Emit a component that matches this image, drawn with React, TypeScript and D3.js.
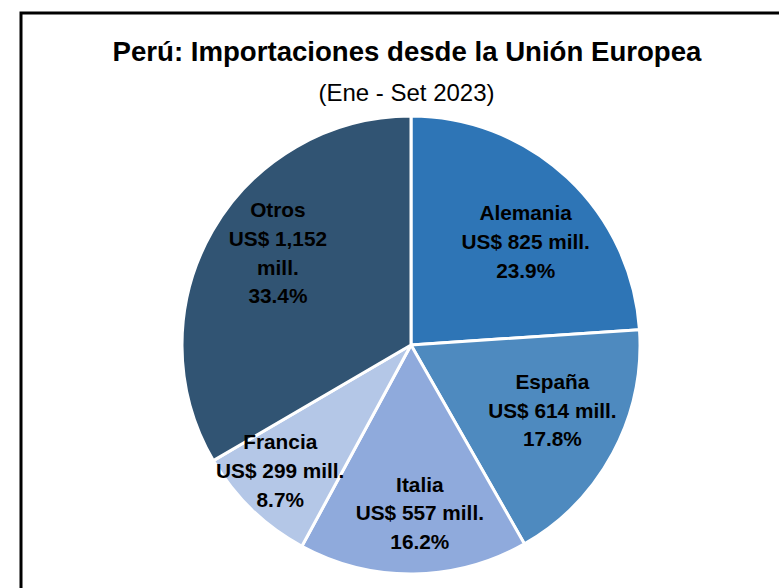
import React from "react";
import * as d3 from "d3";

const categories = ["Alemania", "España", "Italia", "Francia", "Otros"];
const values = [825, 614, 557, 299, 1152];
const valueLabels = ["US$ 825 mill.", "US$ 614 mill.", "US$ 557 mill.", "US$ 299 mill.", "US$ 1,152|mill."];
const shares = ["23.9%", "17.8%", "16.2%", "8.7%", "33.4%"];
const titleText = "Perú: Importaciones desde la Unión Europea";
const subtitleText = "(Ene - Set 2023)";

const colors = ["#2E75B6", "#4E8ABF", "#8FAADC", "#B4C7E7", "#315473"];
const nudges: [number, number][] = [[2, 18], [-4, -12], [7, 4], [-16, 8], [10, -9]];

export default function App() {
  const W = 779, H = 588;
  const cx = 411, cy = 345, R = 229;
  const pie = d3.pie<number>().sort(null).value((d) => d);
  const arcs = pie(values);
  const arc = d3.arc<d3.PieArcDatum<number>>().innerRadius(0).outerRadius(R);
  const labelArc = d3.arc<d3.PieArcDatum<number>>().innerRadius(165).outerRadius(165);
  const lineH = 28.7;
  const font = "'Liberation Sans', Arial, sans-serif";

  return (
    <svg width={W} height={H} style={{ position: "absolute", left: 0, top: 0, background: "#fff" }}>
      <rect x={0} y={0} width={W} height={H} fill="#fff" />
      <rect x={21} y={13} width={900} height={700} fill="none" stroke="#000" strokeWidth={3} />
      <text x={407} y={61} textAnchor="middle" fontFamily={font} fontWeight="bold" fontSize={27.6} fill="#000">
        {titleText}
      </text>
      <text x={406.5} y={101} textAnchor="middle" fontFamily={font} fontSize={24} fill="#000">
        {subtitleText}
      </text>
      <g transform={`translate(${cx},${cy})`}>
        {arcs.map((a, i) => (
          <path key={categories[i]} d={arc(a) || ""} fill={colors[i]} stroke="#fff" strokeWidth={3} strokeLinejoin="round" />
        ))}
        {arcs.map((a, i) => {
          const [lx, ly] = labelArc.centroid(a);
          const x = lx + nudges[i][0];
          const y = ly + nudges[i][1] - 1;
          const lines = [categories[i], ...valueLabels[i].split("|"), shares[i]];
          const n = lines.length;
          return (
            <text key={"l" + i} textAnchor="middle" fontFamily={font} fontWeight="bold" fontSize={20.8} fill="#000">
              {lines.map((t, j) => (
                <tspan key={j} x={x} y={y + (j - (n - 1) / 2) * lineH + 7.5}>
                  {t}
                </tspan>
              ))}
            </text>
          );
        })}
      </g>
    </svg>
  );
}
